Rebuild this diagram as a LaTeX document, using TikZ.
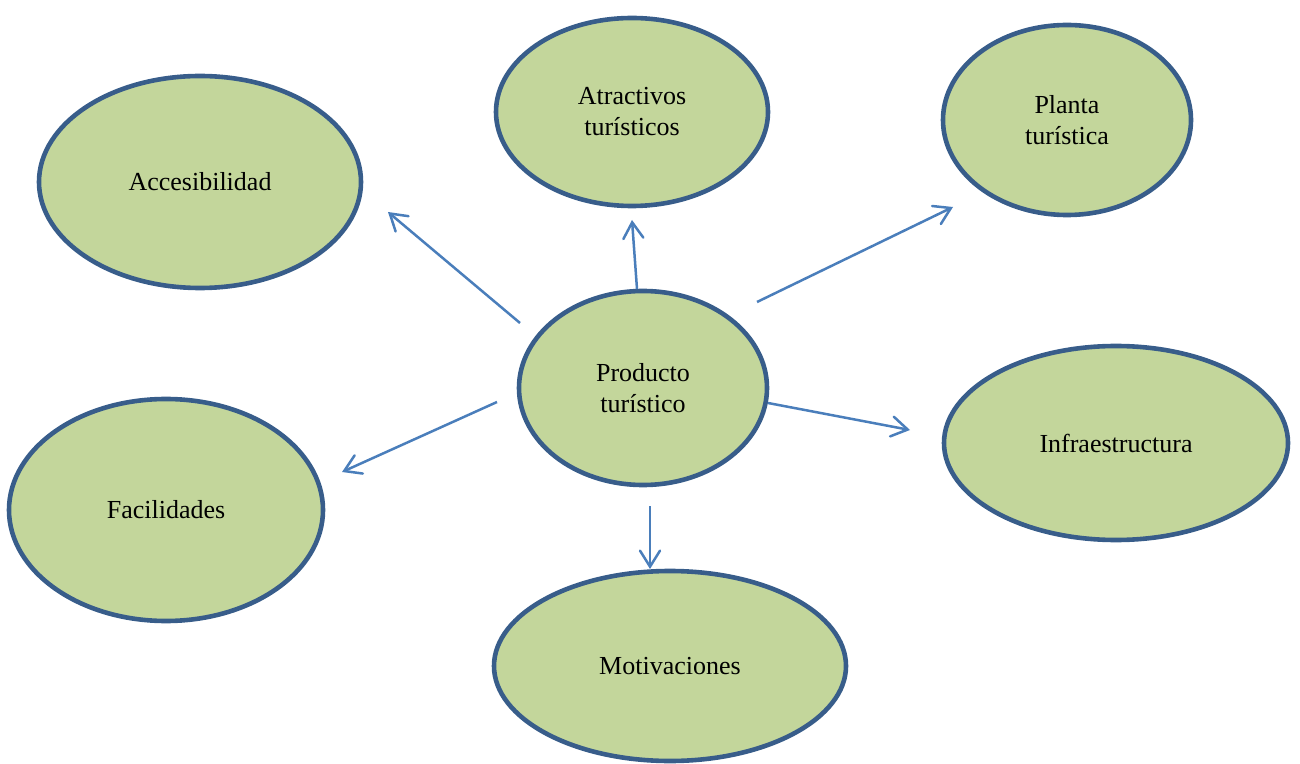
\documentclass[tikz,border=0pt]{standalone}
\usepackage{fontspec}
\setmainfont{Liberation Serif}
\usetikzlibrary{arrows.meta}
\usetikzlibrary{shapes}
\definecolor{ovalfill}{HTML}{C3D69B}
\definecolor{ovalline}{HTML}{385D8A}
\definecolor{arrowline}{HTML}{4A7EBB}

\begin{document}
\begin{tikzpicture}[x=0.5pt,y=-0.5pt]
    \useasboundingbox (0,0) rectangle (1300,764);
    \begin{scope}[every node/.style={ellipse,draw=ovalline,line width=2.3pt,fill=ovalfill,inner sep=0pt,align=center,font=\fontsize{13}{15.5}\selectfont}]
      \node[minimum width=161pt,minimum height=106pt] (acc) at (200,182) {Accesibilidad};
      \node[minimum width=136pt,minimum height=94pt] (atr) at (632,112) {Atractivos\\turísticos};
      \node[minimum width=124pt,minimum height=95pt] (pla) at (1067,120) {Planta\\turística};
      \node[minimum width=124pt,minimum height=97pt] (pro) at (643,388) {Producto\\turístico};
      \node[minimum width=172pt,minimum height=97pt] (inf) at (1116,443) {Infraestructura};
      \node[minimum width=157pt,minimum height=111pt] (fac) at (166,510) {Facilidades};
      \node[minimum width=176pt,minimum height=95pt] (mot) at (670,666) {Motivaciones};
    \end{scope}
    % arrow ends
    \coordinate (s1) at (520,323);  \coordinate (e1) at (388,212);
    \coordinate (s2) at (637,289);  \coordinate (e2) at (632,220);
    \coordinate (s3) at (757,302);  \coordinate (e3) at (953,207);
    \coordinate (s4) at (768,403);  \coordinate (e4) at (910,430);
    \coordinate (s5) at (497,402);  \coordinate (e5) at (342,472);
    \coordinate (s6) at (650,506);  \coordinate (e6) at (650,569);
    \begin{scope}[every edge/.style={draw=arrowline,line width=1.25pt,-{Straight Barb[length=8pt,width=10pt,line cap=round]}}]
      \path (s1) edge (e1);
      \path (s2) edge (e2);
      \path (s3) edge (e3);
      \path (s4) edge (e4);
      \path (s5) edge (e5);
      \path (s6) edge (e6);
    \end{scope}
  \end{tikzpicture}
\end{document}
